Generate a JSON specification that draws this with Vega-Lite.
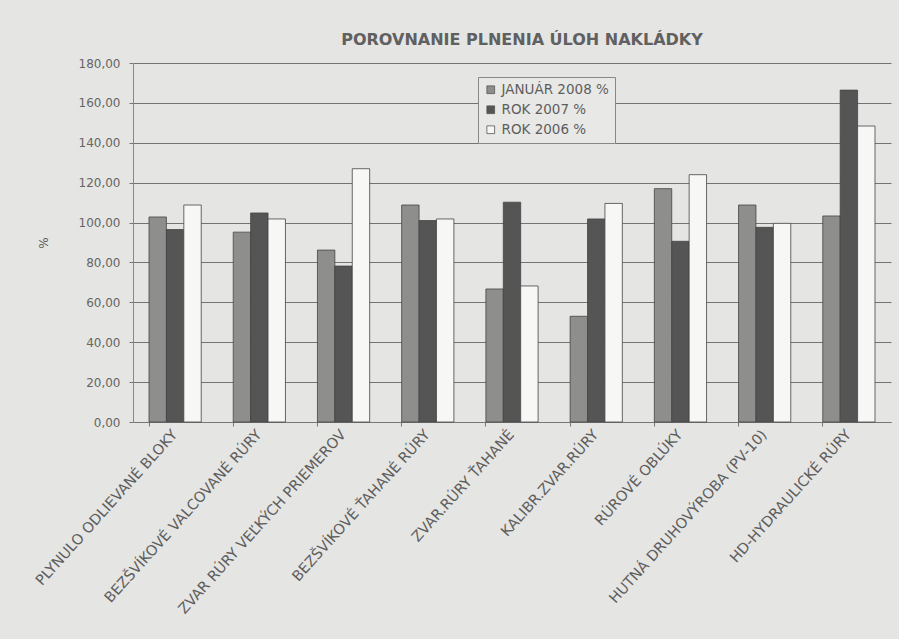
{
  "$schema": "https://vega.github.io/schema/vega-lite/v6.json",
  "autosize": {"type": "none"},
  "width": 758,
  "height": 359,
  "padding": {"left": 133, "top": 63, "right": 8, "bottom": 217},
  "background": "#e5e5e3",
  "title": {"text": "POROVNANIE PLNENIA ÚLOH NAKLÁDKY", "font": "DejaVu Sans", "fontSize": 16, "fontWeight": "bold", "color": "#606060", "anchor": "middle", "offset": 9, "dx": 10},
  "data": {"values": [
    {"kat": "PLYNULO ODLIEVANÉ BLOKY", "rad": "JANUÁR 2008 %", "v": 102.8},
    {"kat": "PLYNULO ODLIEVANÉ BLOKY", "rad": "ROK 2007 %", "v": 96.5},
    {"kat": "PLYNULO ODLIEVANÉ BLOKY", "rad": "ROK  2006 %", "v": 108.8},
    {"kat": "BEZŠVÍKOVÉ VALCOVANÉ RÚRY", "rad": "JANUÁR 2008 %", "v": 95.2},
    {"kat": "BEZŠVÍKOVÉ VALCOVANÉ RÚRY", "rad": "ROK 2007 %", "v": 104.8},
    {"kat": "BEZŠVÍKOVÉ VALCOVANÉ RÚRY", "rad": "ROK  2006 %", "v": 101.8},
    {"kat": "ZVAR  RÚRY VEĽKÝCH PRIEMEROV", "rad": "JANUÁR 2008 %", "v": 86.2},
    {"kat": "ZVAR  RÚRY VEĽKÝCH PRIEMEROV", "rad": "ROK 2007 %", "v": 78.2},
    {"kat": "ZVAR  RÚRY VEĽKÝCH PRIEMEROV", "rad": "ROK  2006 %", "v": 127.0},
    {"kat": "BEZŠVÍKOVÉ  ŤAHANÉ  RÚRY", "rad": "JANUÁR 2008 %", "v": 108.8},
    {"kat": "BEZŠVÍKOVÉ  ŤAHANÉ  RÚRY", "rad": "ROK 2007 %", "v": 101.0},
    {"kat": "BEZŠVÍKOVÉ  ŤAHANÉ  RÚRY", "rad": "ROK  2006 %", "v": 101.8},
    {"kat": "ZVAR.RÚRY ŤAHANÉ", "rad": "JANUÁR 2008 %", "v": 66.7},
    {"kat": "ZVAR.RÚRY ŤAHANÉ", "rad": "ROK 2007 %", "v": 110.2},
    {"kat": "ZVAR.RÚRY ŤAHANÉ", "rad": "ROK  2006 %", "v": 68.2},
    {"kat": "KALIBR.ZVAR.RÚRY", "rad": "JANUÁR 2008 %", "v": 53.0},
    {"kat": "KALIBR.ZVAR.RÚRY", "rad": "ROK 2007 %", "v": 101.8},
    {"kat": "KALIBR.ZVAR.RÚRY", "rad": "ROK  2006 %", "v": 109.6},
    {"kat": "RÚROVÉ OBLÚKY", "rad": "JANUÁR 2008 %", "v": 117.0},
    {"kat": "RÚROVÉ OBLÚKY", "rad": "ROK 2007 %", "v": 90.6},
    {"kat": "RÚROVÉ OBLÚKY", "rad": "ROK  2006 %", "v": 124.0},
    {"kat": "HUTNÁ DRUHOVÝROBA (PV-10)", "rad": "JANUÁR 2008 %", "v": 108.8},
    {"kat": "HUTNÁ DRUHOVÝROBA (PV-10)", "rad": "ROK 2007 %", "v": 97.6},
    {"kat": "HUTNÁ DRUHOVÝROBA (PV-10)", "rad": "ROK  2006 %", "v": 99.6},
    {"kat": "HD-HYDRAULICKÉ RÚRY", "rad": "JANUÁR 2008 %", "v": 103.3},
    {"kat": "HD-HYDRAULICKÉ RÚRY", "rad": "ROK 2007 %", "v": 166.4},
    {"kat": "HD-HYDRAULICKÉ RÚRY", "rad": "ROK  2006 %", "v": 148.4}
  ]},
  "mark": {"type": "bar", "stroke": "#444444", "strokeWidth": 0.8},
  "encoding": {
    "x": {"field": "kat", "type": "nominal", "sort": null,
      "scale": {"paddingInner": 0.38, "paddingOuter": 0.19},
      "axis": {"title": null, "labelAngle": -48, "labelFont": "DejaVu Sans", "labelFontSize": 14.5, "labelColor": "#5e5e5e", "labelPadding": 6, "labelLimit": 400, "bandPosition": 0, "domainColor": "#777777", "tickColor": "#777777", "tickSize": 4}},
    "xOffset": {"field": "rad", "type": "nominal", "sort": ["JANUÁR 2008 %", "ROK 2007 %", "ROK  2006 %"]},
    "y": {"field": "v", "type": "quantitative",
      "scale": {"domain": [0, 180], "nice": false},
      "axis": {"title": "%", "titleFont": "DejaVu Sans", "titleFontSize": 12, "titleFontWeight": "normal", "titleColor": "#5a5a5a", "titlePadding": 28, "values": [0, 20, 40, 60, 80, 100, 120, 140, 160, 180], "labelExpr": "replace(format(datum.value, '.2f'), '.', ',')", "labelFont": "DejaVu Sans", "labelFontSize": 12, "labelColor": "#666666", "labelPadding": 9, "grid": true, "gridColor": "#555555", "gridWidth": 0.8, "domainColor": "#888888", "tickColor": "#777777", "tickSize": 4}},
    "fill": {"field": "rad", "type": "nominal", "sort": ["JANUÁR 2008 %", "ROK 2007 %", "ROK  2006 %"],
      "scale": {"domain": ["JANUÁR 2008 %", "ROK 2007 %", "ROK  2006 %"], "range": ["#8e8e8c", "#555555", "#f7f7f5"]},
      "legend": {"title": null, "orient": "none", "legendX": 345, "legendY": 14, "symbolType": "square", "symbolSize": 60, "symbolStrokeColor": "#555555", "symbolStrokeWidth": 0.8, "labelFont": "DejaVu Sans", "labelFontSize": 13.5, "labelColor": "#5e5e5e", "labelOffset": 4, "rowPadding": 5, "padding": 6, "strokeColor": "#888888", "fillColor": "#e8e8e6"}}
  },
  "config": {"view": {"stroke": null}}
}
